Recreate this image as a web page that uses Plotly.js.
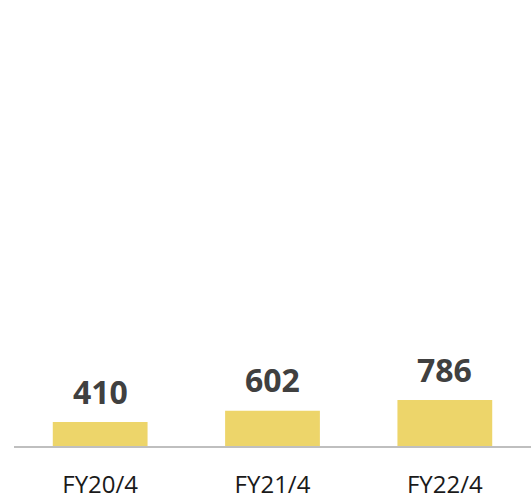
<!DOCTYPE html>
<html>
<head>
<meta charset="utf-8">
<script src="https://cdn.plot.ly/plotly-3.0.1.min.js"></script>
<style>html,body{margin:0;padding:0;background:#fff;}#chart{width:531px;height:499px;}</style>
</head>
<body>
<div id="chart"></div>
<script>
var categories = ["FY20/4", "FY21/4", "FY22/4"];
var values = [410, 602, 786];
var labels = ["410", "602", "786"];

var trace = {
  type: "bar",
  x: categories,
  y: values,
  width: 0.55,
  marker: {color: "#EDD56A"},
  hoverinfo: "none"
};

var annotations = categories.map(function (c, i) {
  return {
    x: c, y: values[i], xref: "x", yref: "y",
    text: "<b>" + labels[i] + "</b>",
    showarrow: false, yanchor: "middle", yshift: 31,
    font: {family: "Open Sans", size: 32, color: "#404040"}
  };
});

var layout = {
  width: 531, height: 499,
  margin: {l: 14, r: 0, t: 0, b: 53},
  paper_bgcolor: "#ffffff", plot_bgcolor: "#ffffff",
  showlegend: false,
  xaxis: {
    type: "category",
    range: [-0.5, 2.5],
    showline: true, linecolor: "#BFBFBF", linewidth: 2,
    showgrid: false, zeroline: false,
    ticks: "outside", ticklen: 16, tickcolor: "rgba(0,0,0,0)",
    tickfont: {family: "Open Sans", size: 24, color: "#1a1a1a"}
  },
  yaxis: {
    range: [0, 7630],
    visible: false, showgrid: false, zeroline: false
  },
  annotations: annotations
};

Plotly.newPlot("chart", [trace], layout, {displayModeBar: false, staticPlot: true});
</script>
</body>
</html>
